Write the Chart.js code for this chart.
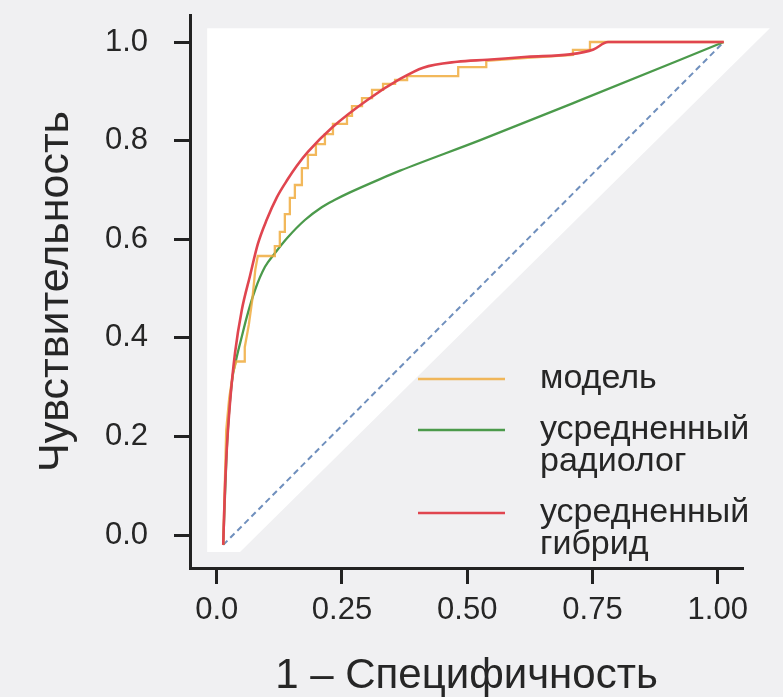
<!DOCTYPE html>
<html><head><meta charset="utf-8">
<style>
html,body{margin:0;padding:0;background:#f0f0f2;}
canvas{display:block;}
</style>
<script src="https://cdn.jsdelivr.net/npm/chart.js@4"></script>
</head><body>
<canvas id="c" width="783" height="697"></canvas>
<script>
// ---- data ----
const xTickValues = [0, 0.25, 0.5, 0.75, 1.0];
const xTickLabels = ['0.0', '0.25', '0.50', '0.75', '1.00'];
const yTickValues = [0, 0.2, 0.4, 0.6, 0.8, 1.0];

const seriesNames = [['модель'], ['усредненный', 'радиолог'], ['усредненный', 'гибрид']];

const modelX = [0.013, 0.019, 0.025, 0.033, 0.039, 0.056, 0.056, 0.064, 0.071, 0.077, 0.082, 0.116, 0.116, 0.126, 0.126, 0.136, 0.136, 0.146, 0.146, 0.156, 0.156, 0.170, 0.170, 0.182, 0.182, 0.198, 0.198, 0.216, 0.216, 0.232, 0.232, 0.260, 0.260, 0.270, 0.270, 0.290, 0.290, 0.310, 0.310, 0.332, 0.332, 0.356, 0.356, 0.380, 0.380, 0.482, 0.482, 0.538, 0.538, 0.620, 0.711, 0.711, 0.745, 0.745, 1.012];
const modelY = [-0.020, 0.213, 0.278, 0.331, 0.352, 0.352, 0.381, 0.426, 0.477, 0.538, 0.566, 0.566, 0.586, 0.586, 0.615, 0.615, 0.651, 0.651, 0.684, 0.684, 0.710, 0.710, 0.744, 0.744, 0.771, 0.771, 0.793, 0.793, 0.813, 0.813, 0.834, 0.834, 0.850, 0.850, 0.870, 0.870, 0.886, 0.886, 0.903, 0.903, 0.915, 0.915, 0.923, 0.923, 0.931, 0.931, 0.949, 0.949, 0.962, 0.968, 0.974, 0.984, 0.984, 1.0, 1.0];

const radiologistX = [0.013, 0.020, 0.030, 0.040, 0.050, 0.060, 0.0765, 0.0964, 0.1164, 0.142, 0.176, 0.2096, 0.236, 0.266, 0.326, 0.366, 0.526, 0.726, 1.012];
const radiologistY = [-0.020, 0.172, 0.308, 0.361, 0.402, 0.442, 0.497, 0.544, 0.572, 0.604, 0.639, 0.665, 0.680, 0.695, 0.722, 0.739, 0.801, 0.882, 1.0];

const hybridX = [0.013, 0.016, 0.020, 0.0265, 0.0365, 0.050, 0.0665, 0.082, 0.100, 0.120, 0.142, 0.160, 0.182, 0.232, 0.300, 0.366, 0.412, 0.480, 0.540, 0.620, 0.705, 0.752, 0.781, 1.012];
const hybridY = [-0.020, 0.080, 0.172, 0.268, 0.369, 0.456, 0.526, 0.590, 0.640, 0.685, 0.722, 0.749, 0.777, 0.828, 0.882, 0.925, 0.948, 0.960, 0.964, 0.970, 0.975, 0.985, 1.0, 1.0];

const chanceX = [0.013, 1.012];
const chanceY = [-0.020, 1.0];

// white backdrop region (data coordinates)
const backdropX = [-0.019, 1.104, 0.0465, -0.019];
const backdropY = [1.028, 1.028, -0.0345, -0.0345];

// ---- style ----
const FONT = "'Liberation Sans', Arial, Helvetica, sans-serif";
const INK = '#262626';
const AXIS = '#222222';
const C_MODEL = 'rgba(240,172,62,0.85)';
const C_RAD = '#4b9a4b';
const C_HYB = '#e0454f';
const C_CHANCE = '#6f8fbd';
const seriesColors = [C_MODEL, C_RAD, C_HYB];

function pts(xs, ys) { return xs.map((x, i) => ({ x: x, y: ys[i] })); }

const backdropPlugin = {
  id: 'backdrop',
  beforeDatasetsDraw(chart) {
    const { ctx, scales } = chart;
    ctx.save();
    ctx.fillStyle = '#ffffff';
    ctx.beginPath();
    backdropX.forEach((v, i) => {
      const px = scales.x.getPixelForValue(v), py = scales.y.getPixelForValue(backdropY[i]);
      if (i === 0) ctx.moveTo(px, py); else ctx.lineTo(px, py);
    });
    ctx.closePath();
    ctx.fill();
    ctx.restore();
  }
};

const legendPlugin = {
  id: 'sideLegend',
  afterDraw(chart) {
    const { ctx, chartArea: a } = chart;
    const lx0 = a.left + 228, lx1 = a.left + 315, tx = a.left + 350;
    const fs = 34, lineGap = 32, entryGap = 51;
    let base = a.top + 373;
    ctx.save();
    ctx.font = fs + 'px ' + FONT;
    ctx.textBaseline = 'alphabetic';
    ctx.textAlign = 'left';
    seriesNames.forEach((lines, i) => {
      ctx.strokeStyle = seriesColors[i];
      ctx.lineWidth = 2.5;
      ctx.beginPath();
      ctx.moveTo(lx0, base - 9);
      ctx.lineTo(lx1, base - 9);
      ctx.stroke();
      ctx.fillStyle = INK;
      lines.forEach((t, j) => ctx.fillText(t, tx, base + j * lineGap));
      base += (lines.length - 1) * lineGap + entryGap;
    });
    ctx.restore();
  }
};

new Chart(document.getElementById('c'), {
  type: 'scatter',
  data: {
    datasets: [
      { label: 'гибрид', data: pts(hybridX, hybridY), showLine: true, borderColor: C_HYB, borderWidth: 2.6, pointRadius: 0, cubicInterpolationMode: 'monotone', order: 0 },
      { label: 'модель', data: pts(modelX, modelY), showLine: true, borderColor: C_MODEL, borderWidth: 2.3, pointRadius: 0, tension: 0, order: 1 },
      { label: 'радиолог', data: pts(radiologistX, radiologistY), showLine: true, borderColor: C_RAD, borderWidth: 2.3, pointRadius: 0, cubicInterpolationMode: 'monotone', order: 2 },
      { label: 'chance', data: pts(chanceX, chanceY), showLine: true, borderColor: C_CHANCE, borderWidth: 2, borderDash: [6, 4], pointRadius: 0, order: 3 }
    ]
  },
  options: {
    responsive: false,
    animation: false,
    devicePixelRatio: 1,
    layout: { padding: { left: 0, right: 40, top: 15, bottom: 0 } },
    plugins: { legend: { display: false }, tooltip: { enabled: false } },
    scales: {
      x: {
        type: 'linear', position: 'bottom', min: -0.0533, max: 1.0504,
        afterBuildTicks: s => { s.ticks = xTickValues.map(v => ({ value: v })); },
        afterFit: s => { s.height = 129; s.paddingLeft = 0; s.paddingRight = 0; },
        ticks: { autoSkip: false, maxRotation: 0, padding: 8, color: INK, font: { family: FONT, size: 31 },
                 callback: (v, i) => xTickLabels[i] },
        grid: { drawOnChartArea: false, drawTicks: true, tickLength: 16, tickWidth: 3, tickColor: AXIS },
        border: { display: true, width: 3, color: AXIS },
        title: { display: true, text: '1 – Специфичность', color: INK, font: { family: FONT, size: 42, lineHeight: 1 }, padding: { top: 0, bottom: 0 } }
      },
      y: {
        type: 'linear', position: 'left', min: -0.0669, max: 1.0548,
        afterBuildTicks: s => { s.ticks = yTickValues.map(v => ({ value: v })); },
        afterFit: s => { s.width = 190; s.paddingTop = 0; s.paddingBottom = 0; },
        ticks: { autoSkip: false, padding: 26, color: INK, font: { family: FONT, size: 31 },
                 callback: v => Number(v).toFixed(1) },
        grid: { drawOnChartArea: false, drawTicks: true, tickLength: 16, tickWidth: 3, tickColor: AXIS },
        border: { display: true, width: 3, color: AXIS },
        title: { display: true, text: 'Чувствительность', color: INK, font: { family: FONT, size: 43, lineHeight: 1 }, padding: { top: 35, bottom: 0 } }
      }
    }
  },
  plugins: [backdropPlugin, legendPlugin]
});
</script>
</body></html>
